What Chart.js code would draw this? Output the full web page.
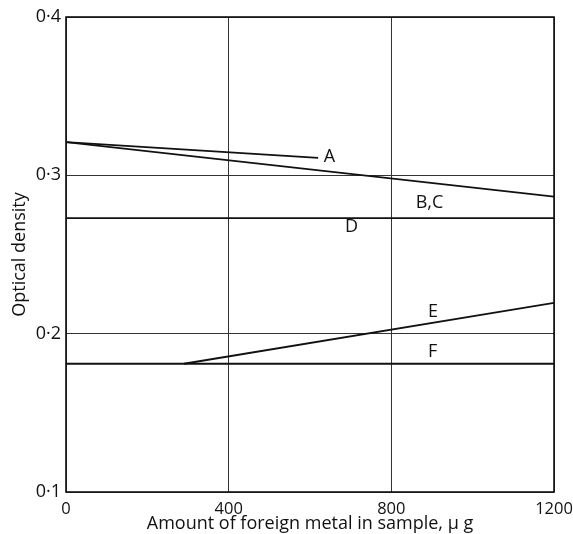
<!DOCTYPE html>
<html>
<head>
<meta charset="utf-8">
<script src="https://cdn.jsdelivr.net/npm/chart.js@4/dist/chart.umd.min.js"></script>
<style>
  html, body { margin: 0; padding: 0; background: #fff; }
  #wrap { width: 573px; height: 534px; }
</style>
</head>
<body>
<div id="wrap"><canvas id="chart" width="573" height="534"></canvas></div>
<script>
// Optical density vs amount of foreign metal (µg)
const xTicks = [0, 400, 800, 1200];
const yTicks = [0.1, 0.2, 0.3, 0.4];

const lineA_x = [0, 620];
const lineA_y = [0.321, 0.311];
const lineBC_x = [0, 1200];
const lineBC_y = [0.321, 0.2865];
const lineD_x = [0, 1200];
const lineD_y = [0.273, 0.273];
const lineE_x = [290, 1200];
const lineE_y = [0.181, 0.2195];
const lineF_x = [0, 1200];
const lineF_y = [0.181, 0.181];

// curve labels and where they sit (data units)
const labelText = ['A', 'B,C', 'D', 'E', 'F'];
const labelX = [634, 860, 686, 890, 890];
const labelY = [0.3115, 0.2825, 0.2675, 0.2135, 0.1885];

const FONT = '"Open Sans", Lato, sans-serif';

function toPoints(xs, ys) {
    return xs.map((x, i) => ({ x: x, y: ys[i] }));
}

const series = [
    [lineA_x, lineA_y],
    [lineBC_x, lineBC_y],
    [lineD_x, lineD_y],
    [lineE_x, lineE_y],
    [lineF_x, lineF_y]
];

const datasets = series.map(([xs, ys]) => ({
    data: toPoints(xs, ys),
    borderColor: '#111',
    borderWidth: 1.8,
    pointRadius: 0,
    fill: false,
    tension: 0
}));

const curveLabels = {
    id: 'curveLabels',
    afterDatasetsDraw(chart) {
        const ctx = chart.ctx;
        const xs = chart.scales.x, ys = chart.scales.y;
        ctx.save();
        ctx.fillStyle = '#111';
        ctx.font = '18px ' + FONT;
        ctx.textAlign = 'left';
        ctx.textBaseline = 'middle';
        labelText.forEach((t, i) => {
            ctx.fillText(t, xs.getPixelForValue(labelX[i]), ys.getPixelForValue(labelY[i]));
        });
        ctx.restore();
    }
};

// outer frame of the plot area
const frame = {
    id: 'frame',
    afterDraw(chart) {
        const a = chart.chartArea;
        const ctx = chart.ctx;
        ctx.save();
        ctx.strokeStyle = '#111';
        ctx.lineWidth = 1.6;
        ctx.strokeRect(a.left, a.top, a.right - a.left, a.bottom - a.top);
        ctx.restore();
    }
};

new Chart(document.getElementById('chart'), {
    type: 'line',
    data: { datasets: datasets },
    options: {
        responsive: false,
        animation: false,
        layout: { padding: { top: 17, right: 19, left: 0, bottom: 0 } },
        plugins: {
            legend: { display: false },
            tooltip: { enabled: false }
        },
        scales: {
            x: {
                type: 'linear',
                min: 0,
                max: 1200,
                afterBuildTicks: (s) => { s.ticks = xTicks.map(v => ({ value: v })); },
                afterFit: (s) => {
                    s.height = 42;
                    // let the end labels run into the margin
                    s.paddingLeft = 0;
                    s.paddingRight = 0;
                },
                grid: { color: '#333', lineWidth: 1, drawTicks: false },
                border: { display: false },
                ticks: {
                    color: '#111',
                    padding: 7,
                    maxRotation: 0,
                    font: { family: FONT, size: 16.5 },
                    callback: (v) => String(v)
                },
                title: {
                    display: true,
                    text: 'Amount of foreign metal in sample, \u03bc g',
                    color: '#111',
                    padding: { top: 0, bottom: -1 },
                    font: { family: FONT, size: 18 }
                }
            },
            y: {
                min: 0.1,
                max: 0.4,
                afterBuildTicks: (s) => { s.ticks = yTicks.map(v => ({ value: v })); },
                afterFit: (s) => { s.width = 66; },
                grid: { color: '#333', lineWidth: 1, drawTicks: false },
                border: { display: false },
                ticks: {
                    color: '#111',
                    padding: 5,
                    font: { family: FONT, size: 18 },
                    callback: (v) => v.toFixed(1).replace('.', '\u00b7')
                },
                title: {
                    display: true,
                    text: 'Optical density',
                    color: '#111',
                    padding: { top: 9, bottom: 0 },
                    font: { family: FONT, size: 18 }
                }
            }
        }
    },
    plugins: [curveLabels, frame]
});
</script>
</body>
</html>
